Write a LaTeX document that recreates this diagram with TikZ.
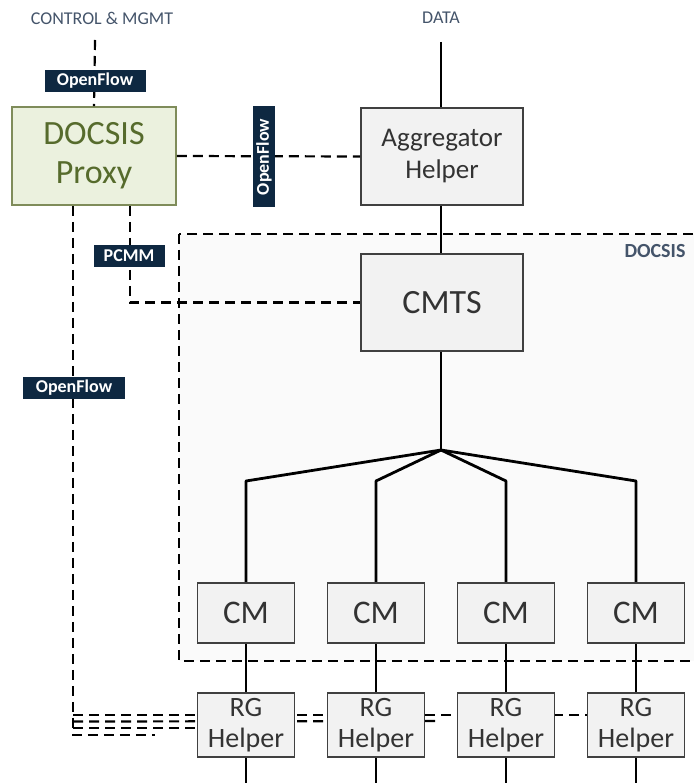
\documentclass[tikz,border=0pt]{standalone}
\usepackage{fontspec}
\setmainfont{Carlito}
\definecolor{navy}{HTML}{0E2841}
\definecolor{proxyfill}{HTML}{EBF1DE}
\definecolor{proxyline}{HTML}{7F8C5A}
\definecolor{proxytext}{HTML}{566B2C}
\definecolor{boxfill}{HTML}{F2F2F2}
\definecolor{boxline}{HTML}{404040}
\definecolor{boxtext}{HTML}{333333}
\definecolor{headtext}{HTML}{44546A}
\definecolor{zonefill}{HTML}{FAFAFA}
\tikzset{
  box/.style={draw=boxline, fill=boxfill, line width=1.6pt, inner sep=0pt,
    align=center, text=boxtext},
  bigbox/.style={box, minimum width=162pt, minimum height=97pt},
  cmbox/.style={box, minimum width=97pt, minimum height=60pt,
    font=\fontsize{33}{35}\selectfont},
  rgbox/.style={box, minimum width=97pt, minimum height=64pt,
    font=\fontsize{28}{31}\selectfont},
  tag/.style={fill=navy, text=white, inner sep=0pt, minimum height=22pt,
    font=\bfseries\fontsize{18}{18}\selectfont},
  heading/.style={text=headtext, font=\fontsize{18}{18}\selectfont},
  wire/.style={line width=2.8pt, draw=black},
  ctl/.style={line width=2.2pt, draw=black, dash pattern=on 10pt off 6pt},
}
\begin{document}
\begin{tikzpicture}[x=1pt, y=-1pt]
\useasboundingbox (0,0) rectangle (693,783);

% DOCSIS zone
\draw[ctl, line width=1.6pt, fill=zonefill] (179,234) rectangle (705,661);
\node[anchor=east, text=headtext, font=\bfseries\fontsize{20}{20}\selectfont]
  (zonelabel) at (689,251) {DOCSIS};

% headings
\node[heading] (ctlhead) at (102,18) {CONTROL \& MGMT};
\node[heading] (datahead) at (441,18) {DATA};

% coordinates for free ends
\coordinate (ctltop) at (95,40);
\coordinate (datatop) at (441,42);
\coordinate (hub) at (441,450);
\coordinate (xl) at (73,0);
\coordinate (xp) at (130,0);
\coordinate (bend) at (73,735);
\coordinate (stub) at (155,735);
\coordinate (midend) at (437,721);

% wires drawn first, boxes sit on top
\draw[wire] (datatop) -- (441,108);
\draw[wire] (441,205) -- (441,254);
\draw[wire] (441,351) -- (hub);
\foreach \x/\n in {246/1,376/2,506/3,636/4}{
  \coordinate (b\n) at (\x,481);
  \coordinate (out\n) at (\x,790);
  \draw[wire, line join=round] (hub) -- (b\n) -- (\x,583);
  \draw[wire] (\x,643) -- (\x,693);
  \draw[wire] (\x,757) -- (out\n);
}

% nodes
\node[draw=proxyline, fill=proxyfill, line width=1.6pt, minimum width=164pt,
  minimum height=98pt, inner sep=0pt, align=center, text=proxytext,
  font=\fontsize{34}{39}\selectfont] (proxy) at (94,156) {DOCSIS\\Proxy};
\node[bigbox, font=\fontsize{27}{32}\selectfont] (agg) at (442,156.5) {Aggregator\\Helper};
\node[bigbox, font=\fontsize{34}{36}\selectfont] (cmts) at (442,302.5) {CMTS};

\foreach \x/\n in {246/1,376/2,506/3,636/4}{
  \node[cmbox] (cm\n) at (\x,613) {CM};
}

% control lines (behind RG helpers)
\draw[ctl] (ctltop) -- (proxy.north);
\draw[ctl] (proxy.east) -- (agg.west);
\draw[ctl] (proxy.south -| xp) |- (cmts.west);
\draw[ctl] (proxy.south -| xl) -- (bend) -- (stub);
\draw[ctl] (73,728) -- (198,728);
\draw[ctl] (73,721.5) -- (midend);
\draw[ctl] (73,715) -- (588,715);

\foreach \x/\n in {246/1,376/2,506/3,636/4}{
  \node[rgbox] (rg\n) at (\x,725) {RG\\Helper};
}

% tags on control lines
\node[tag, minimum width=101pt] (of1) at (95,81) {OpenFlow};
\node[tag, minimum width=101pt, rotate=90] (of2) at (264,157) {OpenFlow};
\node[tag, minimum width=71pt] (pcmm) at (129,256) {PCMM};
\node[tag, minimum width=102pt] (of3) at (74,388) {OpenFlow};
\end{tikzpicture}
\end{document}
